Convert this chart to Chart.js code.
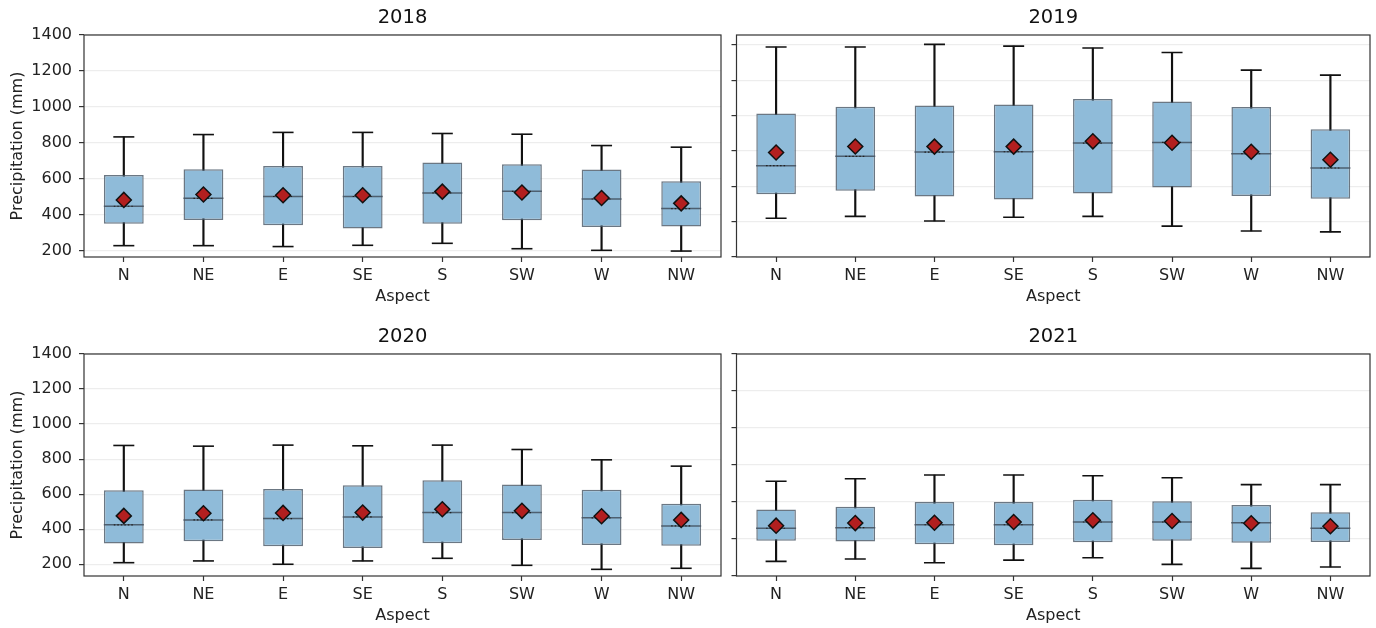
<!DOCTYPE html>
<html>
<head>
<meta charset="utf-8">
<script src="https://cdn.jsdelivr.net/npm/chart.js@4.4.1/dist/chart.umd.min.js"></script>
<style>
  html, body { margin: 0; padding: 0; background: #ffffff; width: 1376px; height: 628px; overflow: hidden; }
  .panel { position: absolute; }
</style>
</head>
<body>
<canvas class="panel" id="c2018" width="722" height="319" style="left:0;top:0;width:722px;height:319px"></canvas>
<canvas class="panel" id="c2019" width="654" height="319" style="left:722px;top:0;width:654px;height:319px"></canvas>
<canvas class="panel" id="c2020" width="722" height="319" style="left:0;top:319px;width:722px;height:319px"></canvas>
<canvas class="panel" id="c2021" width="654" height="319" style="left:722px;top:319px;width:654px;height:319px"></canvas>
<script>
// Terrain aspect classes
const categories = ['N', 'NE', 'E', 'SE', 'S', 'SW', 'W', 'NW'];
const yTickValues = [200, 400, 600, 800, 1000, 1200, 1400];

// 2018 — annual precipitation (mm): whisker ends, quartiles, median, mean
const low2018  = [230, 230, 225, 232, 243, 213, 204, 200];
const q1_2018  = [352, 373, 343, 325, 352, 371, 334, 336];
const med2018  = [449, 493, 503, 503, 523, 532, 489, 436];
const q3_2018  = [623, 655, 673, 673, 692, 682, 653, 588];
const high2018 = [834, 847, 859, 859, 853, 849, 786, 777];
const mean2018 = [484, 514, 510, 510, 530, 525, 495, 465];

// 2019
const low2019  = [419, 430, 404, 425, 430, 375, 347, 342];
const q1_2019  = [555, 575, 543, 526, 560, 594, 545, 530];
const med2019  = [717, 770, 794, 796, 845, 849, 785, 704];
const q3_2019  = [1013, 1051, 1058, 1064, 1094, 1081, 1049, 923];
const high2019 = [1389, 1389, 1404, 1394, 1383, 1358, 1258, 1230];
const mean2019 = [792, 826, 825, 825, 855, 847, 796, 751];

// 2020
const low2020  = [209, 219, 200, 219, 234, 194, 171, 177];
const q1_2020  = [318, 331, 303, 293, 320, 339, 310, 305];
const med2020  = [425, 453, 461, 470, 495, 495, 465, 419];
const q3_2020  = [623, 626, 630, 651, 680, 655, 625, 546];
const high2020 = [878, 874, 880, 876, 880, 855, 796, 760];
const mean2020 = [476, 491, 493, 495, 514, 505, 474, 453];

// 2021
const low2021  = [279, 292, 272, 286, 299, 263, 241, 249];
const q1_2021  = [391, 387, 371, 366, 382, 391, 380, 384];
const med2021  = [458, 461, 477, 477, 492, 492, 488, 458];
const q3_2021  = [560, 575, 600, 600, 612, 604, 584, 544];
const high2021 = [712, 726, 746, 746, 742, 731, 694, 694];
const mean2021 = [472, 486, 488, 492, 501, 497, 485, 469];

const FONT = 'DejaVu Sans';
Chart.defaults.font.family = FONT;
Chart.defaults.color = '#222';

// Axes frame on all four sides
const framePlugin = {
  id: 'frame',
  afterDatasetsDraw(chart) {
    const { ctx, chartArea: a } = chart;
    ctx.save();
    ctx.strokeStyle = '#333';
    ctx.lineWidth = 1.2;
    ctx.strokeRect(a.left, a.top, a.right - a.left, a.bottom - a.top);
    ctx.restore();
  }
};

// Short dotted stroke through the centre of each median line
const medianDotPlugin = {
  id: 'medianDots',
  afterDatasetDraw(chart, args) {
    if (args.meta.label !== 'Median') return;
    const ctx = chart.ctx;
    ctx.save();
    ctx.strokeStyle = '#222';
    ctx.lineWidth = 1.2;
    ctx.setLineDash([1.5, 2]);
    args.meta.data.forEach(pt => {
      ctx.beginPath();
      ctx.moveTo(pt.x - 10, pt.y);
      ctx.lineTo(pt.x + 10, pt.y);
      ctx.stroke();
    });
    ctx.restore();
  }
};

function buildPanel(id, year, low, q1, med, q3, high, mean, yMin, yMax, leftColumn) {
  const textFont = { family: FONT, size: 16 };
  new Chart(document.getElementById(id), {
    type: 'bar',
    data: {
      labels: categories,
      datasets: [
        {
          label: 'Whisker',
          type: 'bar',
          data: low.map((v, i) => [v, high[i]]),
          backgroundColor: '#111',
          barThickness: 1.5,
          grouped: false,
          order: 5
        },
        {
          label: 'IQR',
          type: 'bar',
          data: q1.map((v, i) => [v, q3[i]]),
          backgroundColor: '#8fbbd9',
          borderColor: 'rgba(70,85,100,0.8)',
          borderWidth: 1.5,
          borderSkipped: false,
          barPercentage: 0.5,
          categoryPercentage: 1.0,
          grouped: false,
          order: 4
        },
        {
          label: 'Lower cap',
          type: 'line',
          data: low,
          showLine: false,
          pointStyle: 'line',
          pointRadius: 10.5,
          pointBorderColor: '#111',
          pointBorderWidth: 1.6,
          order: 3
        },
        {
          label: 'Upper cap',
          type: 'line',
          data: high,
          showLine: false,
          pointStyle: 'line',
          pointRadius: 10.5,
          pointBorderColor: '#111',
          pointBorderWidth: 1.6,
          order: 3
        },
        {
          label: 'Median',
          type: 'line',
          data: med,
          showLine: false,
          pointStyle: 'line',
          pointRadius: 20,
          pointBorderColor: 'rgba(70,85,100,0.9)',
          pointBorderWidth: 1.5,
          order: 2
        },
        {
          label: 'Mean',
          type: 'line',
          data: mean,
          showLine: false,
          pointStyle: 'rectRot',
          pointRadius: 7.5,
          pointBackgroundColor: '#b21f1f',
          pointBorderColor: '#111',
          pointBorderWidth: 1.5,
          order: 1
        }
      ]
    },
    options: {
      responsive: false,
      animation: false,
      devicePixelRatio: 1,
      layout: {
        autoPadding: false,
        padding: { left: 0, right: leftColumn ? 1 : 6, top: 0, bottom: 0 }
      },
      plugins: {
        legend: { display: false },
        tooltip: { enabled: false },
        title: {
          display: true,
          text: year,
          fullSize: false,
          color: '#111',
          font: { family: FONT, size: 19.5, weight: 'normal' },
          padding: { top: 6, bottom: 5.6 }
        }
      },
      scales: {
        x: {
          type: 'category',
          offset: true,
          grid: {
            display: true,
            offset: false,
            drawOnChartArea: false,
            drawTicks: true,
            tickLength: 5,
            tickColor: '#333',
            tickWidth: 1.2
          },
          border: { display: false },
          ticks: { color: '#222', font: textFont, padding: 4, maxRotation: 0, autoSkip: false },
          title: {
            display: true,
            text: 'Aspect',
            color: '#222',
            font: textFont,
            padding: { top: 4, bottom: 12.4 }
          },
          afterFit: s => {
            s.height = 62;
            s.paddingLeft = 0;
            s.paddingRight = 0;
          }
        },
        y: {
          type: 'linear',
          min: yMin,
          max: yMax,
          afterBuildTicks: s => { s.ticks = yTickValues.map(v => ({ value: v })); },
          grid: {
            color: 'rgba(0,0,0,0.07)',
            lineWidth: 1.2,
            drawTicks: true,
            tickLength: 5,
            tickColor: '#333',
            tickWidth: 1.2
          },
          border: { display: false },
          ticks: {
            display: leftColumn,
            color: '#222',
            font: textFont,
            padding: 7,
            callback: v => String(v)
          },
          title: {
            display: leftColumn,
            text: 'Precipitation (mm)',
            color: '#222',
            font: textFont,
            padding: { top: 8, bottom: 0 }
          },
          afterFit: s => { s.width = leftColumn ? 84 : 14.5; }
        }
      }
    },
    plugins: [framePlugin, medianDotPlugin]
  });
}

buildPanel('c2018', '2018', low2018, q1_2018, med2018, q3_2018, high2018, mean2018, 167, 1400, true);
buildPanel('c2019', '2019', low2019, q1_2019, med2019, q3_2019, high2019, mean2019, 200, 1457, false);
buildPanel('c2020', '2020', low2020, q1_2020, med2020, q3_2020, high2020, mean2020, 133, 1400, true);
buildPanel('c2021', '2021', low2021, q1_2021, med2021, q3_2021, high2021, mean2021, 200, 1400, false);
</script>
</body>
</html>
